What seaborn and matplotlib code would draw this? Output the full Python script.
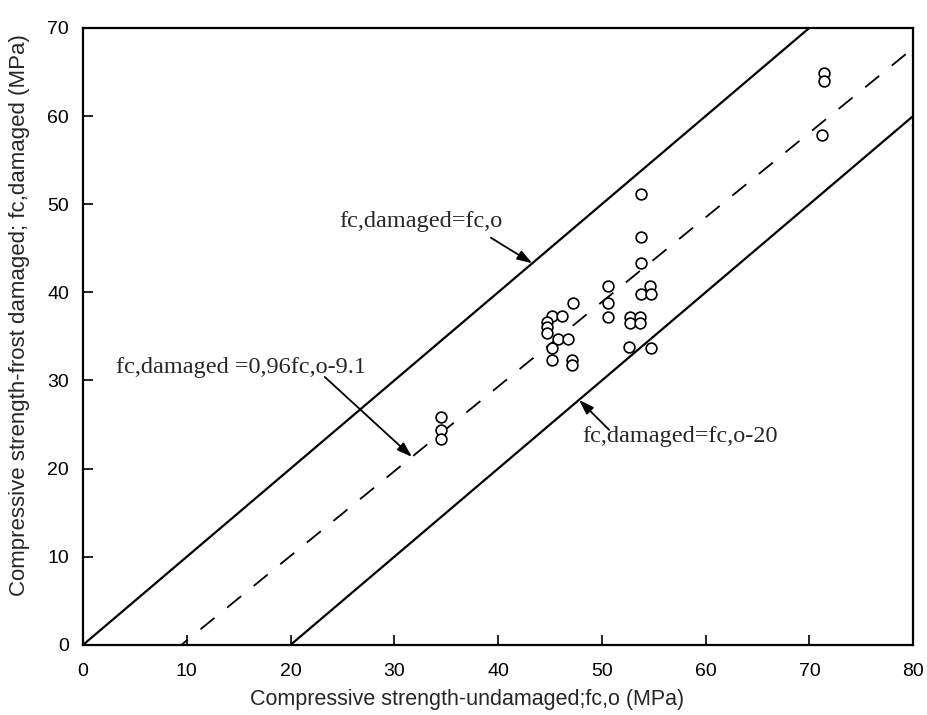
import numpy as np
import pandas as pd
import matplotlib
matplotlib.use('Agg')
import matplotlib.pyplot as plt
import seaborn as sns

# measured points (undamaged fc,o ; frost damaged fc,damaged), MPa
fc_o = [34.5, 34.5, 34.5,
        50.6, 54.6, 53.75, 54.7, 47.2, 50.6, 50.6,
        45.2, 46.2, 44.7, 52.7, 53.7, 52.7, 53.7,
        44.7, 44.7, 45.8, 46.7, 45.2, 52.6, 54.7,
        45.2, 47.1, 47.1,
        53.8, 53.8, 53.8,
        71.4, 71.4, 71.2]
fc_dam = [25.9, 24.4, 23.4,
          40.7, 40.7, 39.8, 39.8, 38.8, 38.8, 37.2,
          37.3, 37.3, 36.6, 37.2, 37.2, 36.5, 36.5,
          36.1, 35.4, 34.7, 34.7, 33.7, 33.8, 33.7,
          32.3, 32.3, 31.7,
          51.2, 46.3, 43.3,
          64.9, 64.0, 57.8]

x_ticks = [0, 10, 20, 30, 40, 50, 60, 70, 80]
y_ticks = [0, 10, 20, 30, 40, 50, 60, 70]

sns.set_style("ticks")
plt.rcParams['font.family'] = ['Liberation Sans', 'DejaVu Sans']

fig = plt.figure(figsize=(9.28, 7.15), dpi=100)
ax = fig.add_axes([0.0894, 0.098, 0.8946, 0.863])

# reference lines
xs = np.array([0, 80])
ax.plot(xs, xs, color='black', lw=1.6)
ax.plot(xs, 0.96 * xs - 9.1, color='black', lw=1.3, dashes=(10, 9))
ax.plot(xs, xs - 20, color='black', lw=1.6)

df = pd.DataFrame({'fc_o': fc_o, 'fc_dam': fc_dam})
sns.scatterplot(data=df, x='fc_o', y='fc_dam', ax=ax, marker='o',
                s=60, facecolor='white', edgecolor='black', linewidth=1.2,
                zorder=3, legend=False)

# line labels with arrows
serif = ['Liberation Serif', 'DejaVu Serif']
arrow = dict(arrowstyle='-|>,head_length=0.9,head_width=0.3', color='black',
             lw=1.3, shrinkA=0, shrinkB=0)
ax.text(40.4, 48.0, 'fc,damaged=fc,o', fontsize=17.5, family=serif,
        ha='right', va='center')
ax.annotate('', xy=(43.3, 43.3), xytext=(39.3, 46.2), arrowprops=arrow)
ax.text(27.3, 31.5, 'fc,damaged =0,96fc,o-9.1', fontsize=17.5, family=serif,
        ha='right', va='center')
ax.annotate('', xy=(31.7, 0.96 * 31.7 - 9.1), xytext=(23.3, 30.4),
            arrowprops=arrow)
ax.text(48.1, 23.6, 'fc,damaged=fc,o-20', fontsize=17.5, family=serif,
        ha='left', va='center')
ax.annotate('', xy=(47.8, 27.8), xytext=(50.7, 24.4), arrowprops=arrow)

ax.set_xlim(0, 80)
ax.set_ylim(0, 70)
ax.set_xticks(x_ticks)
ax.set_yticks(y_ticks)
ax.tick_params(axis='both', direction='in', length=7, width=1.2,
               labelsize=14, colors='black')
ax.tick_params(axis='x', pad=13)
ax.tick_params(axis='y', pad=10)
for s in ax.spines.values():
    s.set_visible(True)
    s.set_linewidth(1.6)
    s.set_color('black')

ax.set_xlabel('Compressive strength-undamaged;fc,o (MPa)', fontsize=15.5)
ax.xaxis.set_label_coords(0.463, -0.071)
ax.set_ylabel('Compressive strength-frost damaged; fc,damaged (MPa)',
              fontsize=16)
ax.yaxis.set_label_coords(-0.064, 0.535)

fig.savefig('out.png', dpi=100)
